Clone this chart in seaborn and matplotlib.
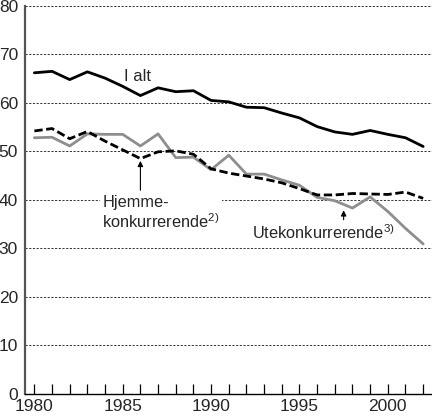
import numpy as np
import pandas as pd
import matplotlib
matplotlib.use("Agg")
import matplotlib.pyplot as plt
import seaborn as sns

# -------------------------
# Data
# -------------------------
years = list(range(1980, 2003))

i_alt = [66.2, 66.5, 64.8, 66.4, 65.1, 63.4, 61.5, 63.1, 62.3, 62.5, 60.5,
         60.2, 59.1, 59.0, 57.9, 56.9, 55.1, 54.0, 53.5, 54.3, 53.5, 52.8, 51.0]

hjemme = [54.2, 54.7, 52.6, 54.1, 52.1, 50.3, 48.5, 49.9, 50.1, 49.4, 46.4,
          45.5, 44.9, 44.3, 43.5, 42.3, 41.0, 41.0, 41.3, 41.2, 41.1, 41.6, 40.3]

ute = [52.8, 52.9, 51.1, 53.6, 53.5, 53.5, 51.1, 53.6, 48.7, 48.8, 46.2,
       49.2, 45.3, 45.3, 44.1, 43.0, 40.5, 39.8, 38.3, 40.6, 37.6, 34.1, 30.9]

y_ticks = [0, 10, 20, 30, 40, 50, 60, 70, 80]
x_labels = [1980, 1985, 1990, 1995, 2000]

GRAY = "#8e8e8e"


def build_frame():

    df = pd.DataFrame({"year": years, "I alt": i_alt,
                       "Hjemme": hjemme, "Ute": ute})

    return df


def main():

    df = build_frame()

    sns.set_style("white")
    plt.rcParams["font.family"] = ["Liberation Sans", "DejaVu Sans"]
    plt.rcParams["mathtext.fontset"] = "custom"
    plt.rcParams["mathtext.rm"] = "Liberation Sans"
    plt.rcParams["mathtext.it"] = "Liberation Sans"
    plt.rcParams["mathtext.bf"] = "Liberation Sans"

    fig = plt.figure(figsize=(4.32, 4.20), dpi=100)
    ax = fig.add_axes([25 / 432, 26.3 / 420, 407 / 432, 387.8 / 420])

    # grid lines
    for v in y_ticks[1:]:
        ax.axhline(v, color="#333333", lw=0.7, ls=(0, (2.2, 1.6)), zorder=1)

    sns.lineplot(data=df, x="year", y="Ute", ax=ax, color=GRAY,
                 lw=2.0, zorder=3)
    sns.lineplot(data=df, x="year", y="Hjemme", ax=ax, color="black",
                 lw=2.0, zorder=4)
    ax.lines[-1].set_dashes((3, 1.3))
    sns.lineplot(data=df, x="year", y="I alt", ax=ax, color="black",
                 lw=2.0, zorder=4)

    ax.set_xlim(1979.47, 2002.5)
    ax.set_ylim(0, 80)

    ax.set_xticks(years, minor=True)
    ax.set_xticks(x_labels)
    ax.set_xticklabels([str(x) for x in x_labels], fontsize=12.5)
    ax.tick_params(axis="x", which="both", direction="in", length=7,
                   width=0.9, color="black", pad=4, bottom=True)
    ax.set_yticks(y_ticks)
    ax.set_yticklabels([str(v) for v in y_ticks], fontsize=12.5)
    ax.tick_params(axis="y", length=0, pad=5)

    ax.set_xlabel("")
    ax.set_ylabel("")

    for s in ["top", "right"]:
        ax.spines[s].set_visible(False)
    ax.spines["left"].set_color("#555555")
    ax.spines["left"].set_linewidth(1.6)
    ax.spines["bottom"].set_color("black")
    ax.spines["bottom"].set_linewidth(1.0)

    # annotations
    ax.text(1985.1, 65.5, "I alt", fontsize=12, ha="left", va="center")

    ax.text(1983.85, 37.3, "Hjemme-\nkonkurrerende$^{2)}$", fontsize=11.8,
            ha="left", va="center", linespacing=1.1, zorder=5,
            bbox=dict(facecolor="white", edgecolor="none", pad=1.5))
    ax.annotate("", xy=(1986, 48.6), xytext=(1986, 41.4),
                arrowprops=dict(arrowstyle="-|>", color="black", lw=0.8,
                                mutation_scale=8))

    ax.text(1996.35, 33.2, "Utekonkurrerende$^{3)}$", fontsize=11.8,
            ha="center", va="center", zorder=5)
    ax.annotate("", xy=(1997.5, 38.4), xytext=(1997.5, 35.3),
                arrowprops=dict(arrowstyle="-|>", color="black", lw=0.8,
                                mutation_scale=8))

    fig.savefig("out.png", dpi=100)


if __name__ == "__main__":
    main()
